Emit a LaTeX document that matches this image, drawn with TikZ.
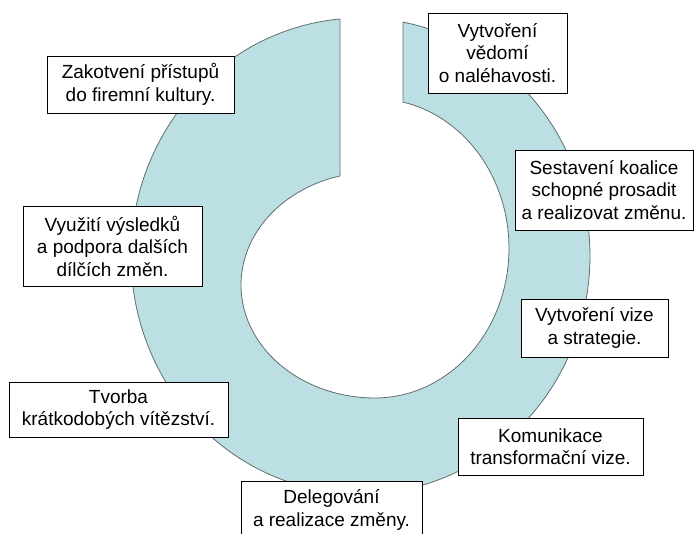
\documentclass[tikz,border=0pt]{standalone}
\usepackage{fontspec}
\setmainfont{Liberation Sans}
\usetikzlibrary{shadows}
\definecolor{ringfill}{RGB}{187,223,227}
\definecolor{ringline}{RGB}{96,110,112}
\begin{document}
\begin{tikzpicture}[x=1pt,y=-1pt,
  stagebox/.style={draw=black, line width=0.9pt, fill=white, align=center,
    inner sep=0pt, font=\fontsize{19}{22.5}\selectfont,
    drop shadow={shadow xshift=1.3pt, shadow yshift=-1.3pt, fill=black, opacity=0.6}},
]
\useasboundingbox (0,0) rectangle (695,533);

% open ring: elliptic outer rim; inner rim made of two half-ellipses
\path[fill=ringfill, draw=ringline, line width=0.8pt]
  plot[domain=264.88:-79.33, samples=150] ({360.5+229.5*cos(\x)},{256+238*sin(\x)})
  -- plot[domain=-77.94:90, samples=80] ({375+134*cos(\x)},{248.4+149.6*sin(\x)})
  -- plot[domain=90:254.86, samples=80] ({375+134*cos(\x)},{285+113*sin(\x)})
  -- cycle;

% stages of change
\node[stagebox, minimum width=139pt, minimum height=80pt] (s1) at (497.5,53)
  {Vytvoření\\vědomí\\o naléhavosti.};
\node[stagebox, minimum width=178pt, minimum height=80pt] (s2) at (604,190)
  {Sestavení koalice\\schopné prosadit\\a realizovat změnu.};
\node[stagebox, minimum width=147pt, minimum height=58pt] (s3) at (594.5,328)
  {Vytvoření vize\\a strategie.};
\node[stagebox, minimum width=185pt, minimum height=57pt] (s4) at (550.5,446.5)
  {Komunikace\\transformační vize.};
\node[stagebox, minimum width=181pt, minimum height=58pt] (s5) at (331.5,510)
  {Delegování\\a realizace změny.};
\node[stagebox, minimum width=219pt, minimum height=55pt] (s6) at (118.5,409.5)
  {Tvorba\\krátkodobých vítězství.};
\node[stagebox, minimum width=179pt, minimum height=80pt] (s7) at (112.5,246)
  {Využití výsledků\\a podpora dalších\\dílčích změn.};
\node[stagebox, minimum width=187pt, minimum height=57pt] (s8) at (140.5,84.5)
  {Zakotvení přístupů\\do firemní kultury.};
\end{tikzpicture}
\end{document}
